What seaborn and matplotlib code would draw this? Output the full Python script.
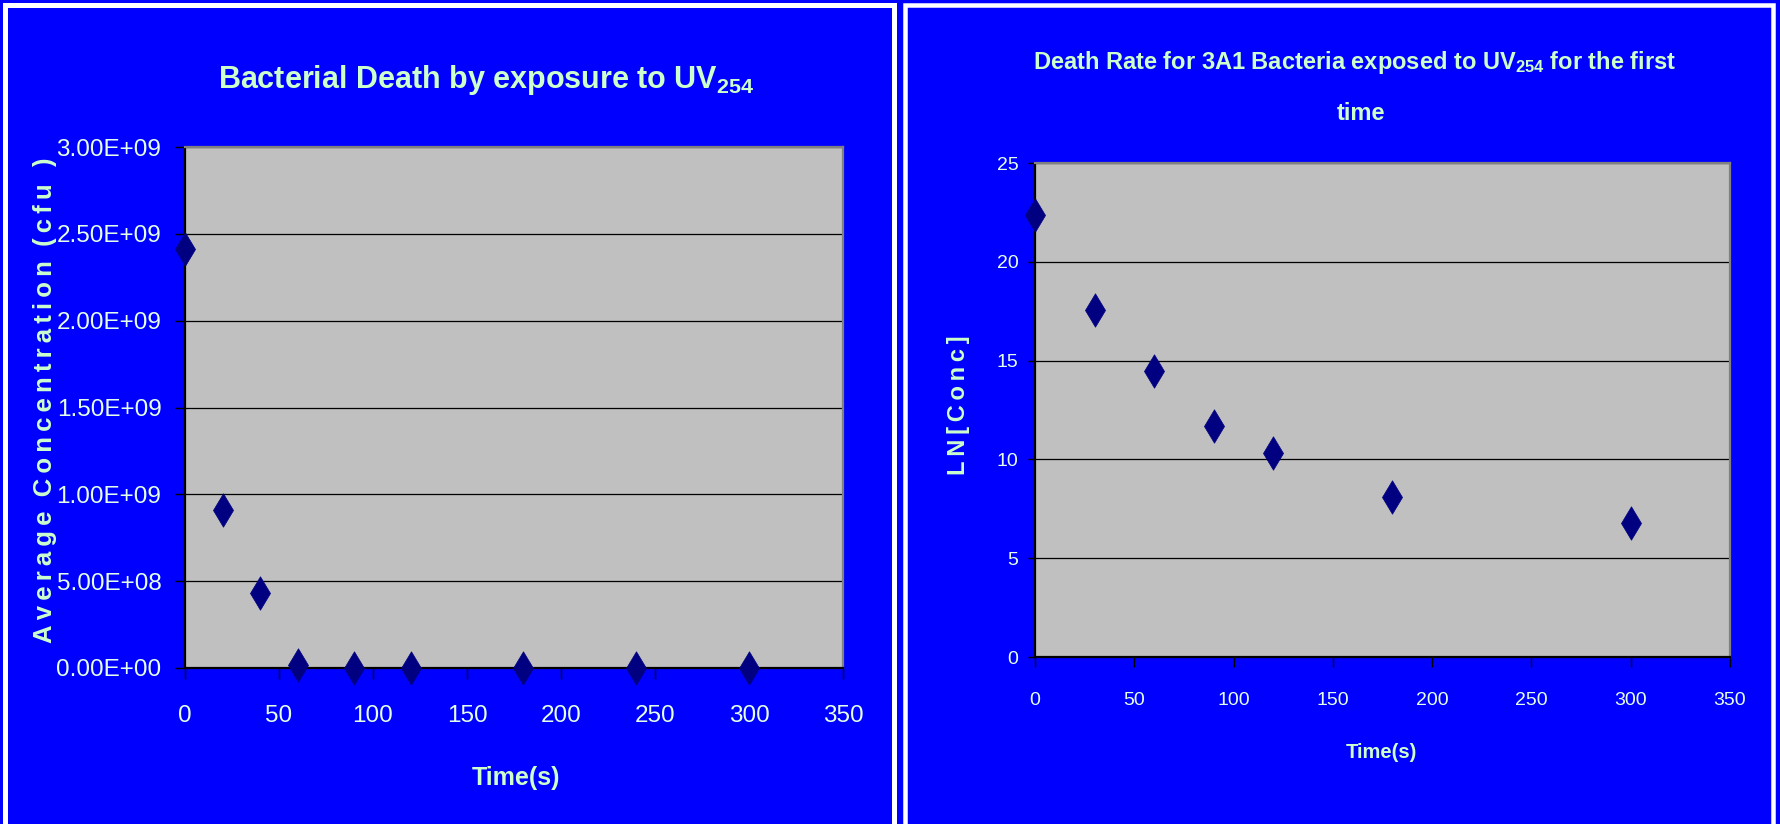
import matplotlib
matplotlib.use("Agg")
import matplotlib.pyplot as plt
from matplotlib.patches import Rectangle
from matplotlib.ticker import FuncFormatter
import seaborn as sns
import pandas as pd

# UV254 exposure: average concentration over time
time_conc = [0, 20, 40, 60, 90, 120, 180, 240, 300]
avg_conc = [2.41e9, 9.1e8, 4.3e8, 1.5e7, 1.2e5, 3.0e4, 3.4e3, 1.5e3, 9.0e2]

# 3A1 bacteria: natural log of concentration
time_ln = [0, 30, 60, 90, 120, 180, 300]
ln_conc = [22.35, 17.57, 14.47, 11.69, 10.31, 8.12, 6.80]

conc_ticks = [0, 5e8, 1e9, 1.5e9, 2e9, 2.5e9, 3e9]
ln_ticks = [0, 5, 10, 15, 20, 25]
time_ticks = [0, 50, 100, 150, 200, 250, 300, 350]

sns.set_style("white")
FONT = ["Liberation Sans Narrow", "Liberation Sans", "DejaVu Sans"]
plt.rcParams["font.family"] = FONT
plt.rcParams["mathtext.default"] = "regular"

BLUE = "#0000FF"
PLOT_BG = "#C0C0C0"
LABEL_GREEN = "#CCFFCC"
TICK_TXT = "#E4FFEC"
NAVY = "#000080"
THIN = "\u2009"

W, H = 1780, 824
fig = plt.figure(figsize=(W / 100, H / 100), dpi=100, facecolor=BLUE)


def fx(px):
    return px / W


def fy(py):
    return 1 - py / H


def spaced(text):
    # letter-spaced axis title
    return THIN.join(text)


# white frames around the two chart panels
for x0, x1, lw in [(4.5, 894.5, 5), (904.5, 1772.5, 4.5)]:
    fig.patches.append(Rectangle((fx(x0), fy(H + 20)), fx(x1 - x0), (H + 20 - 4.5) / H,
                                 transform=fig.transFigure, fill=False,
                                 edgecolor="white", linewidth=lw * 0.72, zorder=0))


def style_axes(ax, ytick_len, ylab_pad, xtick_len, xlab_pad, tick_fs):
    ax.set_facecolor(PLOT_BG)
    for side in ["left", "bottom"]:
        ax.spines[side].set_color("black")
        ax.spines[side].set_linewidth(1.6)
    for side in ["top", "right"]:
        ax.spines[side].set_color("#808080")
        ax.spines[side].set_linewidth(1.6)
    ax.grid(axis="y", color="black", linewidth=0.9)
    ax.grid(axis="x", visible=False)
    ax.set_axisbelow(True)
    ax.tick_params(axis="y", direction="out", length=ytick_len, width=1, color="black",
                   pad=ylab_pad, labelsize=tick_fs, labelcolor=TICK_TXT, left=True)
    ax.tick_params(axis="x", direction="out", length=xtick_len, width=1, color="black",
                   pad=xlab_pad, labelsize=tick_fs, labelcolor=TICK_TXT, bottom=True)
    ax.set_xlabel("")
    ax.set_ylabel("")


# ---- left chart ----
ax1 = fig.add_axes([fx(185), fy(668), fx(843 - 185), (668 - 147) / H])
df1 = pd.DataFrame({"time": time_conc, "conc": avg_conc})
sns.scatterplot(data=df1, x="time", y="conc", ax=ax1, marker="d", s=290,
                color=NAVY, edgecolor=NAVY, linewidth=0.5, clip_on=False, zorder=3)
ax1.set_xlim(0, 350)
ax1.set_ylim(0, 3e9)
ax1.set_xticks(time_ticks)
ax1.set_yticks(conc_ticks)
ax1.yaxis.set_major_formatter(FuncFormatter(lambda v, p: "{:.2E}".format(v)))
style_axes(ax1, 7, 10, 8, 19, 17.5)

fig.text(fx(486), fy(80), "Bacterial Death by exposure to UV$_{254}$", ha="center", va="center",
         fontsize=22, fontweight="bold", color=LABEL_GREEN)
fig.text(fx(516), fy(778), "Time(s)", ha="center", va="center",
         fontsize=18, fontweight="bold", color=LABEL_GREEN)
fig.text(fx(45), fy(400), spaced("Average") + "  " + spaced("Concentration") + "  " + spaced("(cfu )"),
         ha="center", va="center", rotation=90, fontsize=18.5, fontweight="bold",
         color=LABEL_GREEN)

# ---- right chart ----
ax2 = fig.add_axes([fx(1035), fy(657), fx(1730 - 1035), (657 - 163) / H])
df2 = pd.DataFrame({"time": time_ln, "ln": ln_conc})
sns.scatterplot(data=df2, x="time", y="ln", ax=ax2, marker="d", s=290,
                color=NAVY, edgecolor=NAVY, linewidth=0.5, clip_on=False, zorder=3)
ax2.set_xlim(0, 350)
ax2.set_ylim(0, 25)
ax2.set_xticks(time_ticks)
ax2.set_yticks(ln_ticks)
style_axes(ax2, 5, 7, 7, 18, 14)

fig.text(fx(1355), fy(62), "Death Rate for 3A1 Bacteria exposed to UV$_{254}$ for the first",
         ha="center", va="center", fontsize=17, fontweight="bold", color=LABEL_GREEN)
fig.text(fx(1361), fy(114), "time", ha="center", va="center",
         fontsize=17, fontweight="bold", color=LABEL_GREEN)
fig.text(fx(1381), fy(753), "Time(s)", ha="center", va="center",
         fontsize=14.5, fontweight="bold", color=LABEL_GREEN)
fig.text(fx(959), fy(405), spaced("LN[Conc]"), ha="center", va="center", rotation=90,
         fontsize=17, fontweight="bold", color=LABEL_GREEN)

fig.savefig("out.png", dpi=100, facecolor=BLUE)
